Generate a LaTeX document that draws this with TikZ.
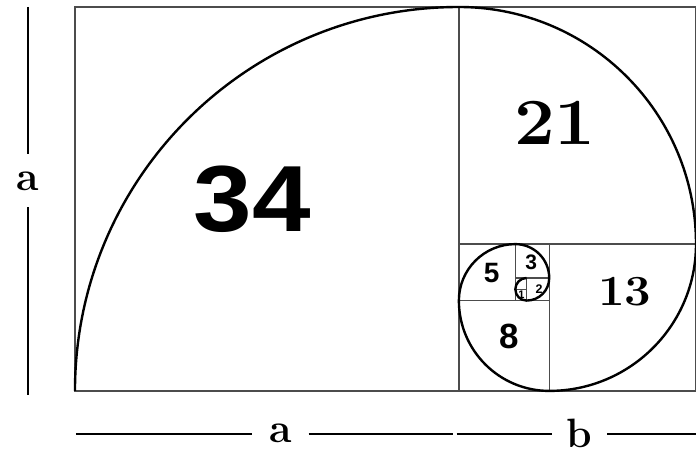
\documentclass[tikz,border=0pt]{standalone}
\usepackage{fontspec}
\newfontfamily\sansdig{Liberation Sans}
\newcommand{\fsz}[1]{\fontsize{#1}{#1}\selectfont}
\begin{document}
\begin{tikzpicture}[x=11.3pt,y=11.3pt,
	square/.style={draw=black!70,line width=1.3pt},
	spiral/.style={draw=black,line width=2.4pt},
	dimline/.style={draw=black,line width=2.4pt},
	dimlabel/.style={inner sep=0pt,outer sep=2pt,font=\bfseries\fsz{41pt}},
	serifnum/.style={inner sep=0pt,font=\bfseries\fsz{#1}},
	sansnum/.style={inner sep=0pt,font=\sansdig\bfseries\fsz{#1}}]
	\useasboundingbox (-6.64,-5.84) rectangle (55,34.62);
	% squares
	\draw[square] (0,0) rectangle (55,34);
	\draw[square] (34,0) -- (34,34);
	\draw[square] (34,13) -- (55,13);
	\draw[square] (42,0) -- (42,13);
	\draw[square] (34,8) -- (42,8);
	\draw[square] (39,8) -- (39,13);
	\draw[square] (39,10) -- (42,10);
	\draw[square] (40,8) -- (40,10);
	\draw[square] (39,9) -- (40,9);
	% spiral
	\draw[spiral] (0,0) arc (180:90:34) arc (90:0:21) arc (0:-90:13) arc (-90:-180:8)
		arc (180:90:5) arc (90:0:3) arc (0:-90:2) arc (-90:-180:1) arc (180:90:1);
	% numbers
	\node[sansnum=94pt,xscale=1.12] (n34) at (15.7,17) {34};
	\node[serifnum=66pt,xscale=1.1] (n21) at (42.5,23.7) {21};
	\node[serifnum=43pt,xscale=1.1] (n13) at (48.7,8.8) {13};
	\node[sansnum=35pt] (n8) at (38.5,4.8) {8};
	\node[sansnum=28pt] (n5) at (36.9,10.4) {5};
	\node[sansnum=21pt] (n3) at (40.4,11.4) {3};
	\node[sansnum=12.5pt] (n2) at (41.1,9) {2};
	\node[sansnum=11pt] (n1) at (39.55,8.55) {1};
	% dimension lines
	\node[dimlabel,outer ysep=17pt] (la) at (-4.16,18.6) {a};
	\coordinate (latop) at (-4.16,34);
	\coordinate (labot) at (-4.16,-0.35);
	\draw[dimline] (latop) -- (la);
	\draw[dimline] (la) -- (labot);
	\node[dimlabel,outer xsep=17pt] (ba) at (18.2,-3.8) {a};
	\node[dimlabel,outer xsep=15pt] (bb) at (44.7,-3.8) {b};
	\coordinate (bastart) at (0.09,-3.8);
	\coordinate (baend) at (33.45,-3.8);
	\coordinate (bbstart) at (33.8,-3.8);
	\coordinate (bbend) at (55,-3.8);
	\draw[dimline] (bastart) -- (ba);
	\draw[dimline] (ba) -- (baend);
	\draw[dimline] (bbstart) -- (bb);
	\draw[dimline] (bb) -- (bbend);
\end{tikzpicture}
\end{document}
